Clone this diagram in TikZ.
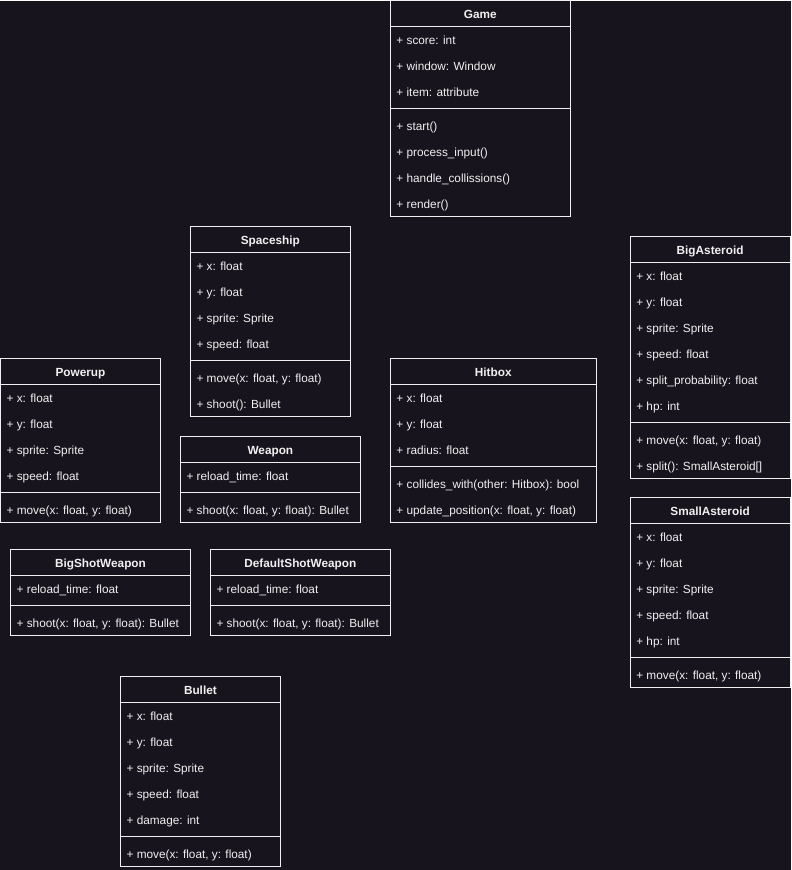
\documentclass[tikz,border=0pt]{standalone}
\usepackage{fontspec}
\setmainfont{Liberation Sans}

\definecolor{canvas}{RGB}{24,20,29}
\definecolor{ink}{RGB}{240,240,240}

\tikzset{
  classtitle/.style={font=\fontsize{11.8}{14}\selectfont\bfseries, text=ink,
    inner sep=0pt, text height=8.6pt, text depth=0pt},
  member/.style={font=\fontsize{11.8}{14}\selectfont, text=ink, anchor=west,
    inner sep=0pt, text height=8.6pt, text depth=0pt},
  classline/.style={draw=ink, line width=1pt},
}

% #1 name, #2 left, #3 top, #4 width, #5 title, #6 attributes, #7 operations
\newcommand{\umlclass}[7]{%
  \node[classtitle] (#1) at ({#2+#4/2},{#3+14}) {#5};
  \foreach \a [count=\i] in {#6} {
    \node[member] (#1-attr\i) at ({#2+6},{#3+14+26*\i}) {\a};
    \xdef\nattr{\i}
  }
  \pgfmathsetmacro{\sepy}{#3+30+26*\nattr}
  \foreach \m [count=\j] in {#7} {
    \node[member] (#1-op\j) at ({#2+6},{\sepy-8+26*\j}) {\m};
    \xdef\nop{\j}
  }
  \draw[classline] (#2,{#3+26}) -- ++(#4,0);
  \draw[classline] (#2,\sepy) -- ++(#4,0);
  \draw[classline] (#2,#3) rectangle ({#2+#4},{\sepy+4+26*\nop});
}

\begin{document}
\begin{tikzpicture}[x=1pt, y=-1pt]
  \fill[canvas] (0,0) rectangle (791,870);

  \umlclass{game}{390}{0}{180}{Game}
    {+ score: int, + window: Window, + item: attribute}
    {+ start(), + process\_input(), + handle\_collissions(), + render()}

  \umlclass{spaceship}{190}{226}{160}{Spaceship}
    {+ x: float, + y: float, + sprite: Sprite, + speed: float}
    {{+ move(x: float, y: float)}, + shoot(): Bullet}

  \umlclass{bigasteroid}{630}{236}{160}{BigAsteroid}
    {+ x: float, + y: float, + sprite: Sprite, + speed: float,
     + split\_probability: float, + hp: int}
    {{+ move(x: float, y: float)}, {+ split(): SmallAsteroid[]}}

  \umlclass{powerup}{0}{358}{160}{Powerup}
    {+ x: float, + y: float, + sprite: Sprite, + speed: float}
    {{+ move(x: float, y: float)}}

  \umlclass{hitbox}{390}{358}{206}{Hitbox}
    {+ x: float, + y: float, + radius: float}
    {{+ collides\_with(other: Hitbox): bool},
     {+ update\_position(x: float, y: float)}}

  \umlclass{weapon}{180}{436}{180}{Weapon}
    {+ reload\_time: float}
    {{+ shoot(x: float, y: float): Bullet}}

  \umlclass{smallasteroid}{630}{497}{160}{SmallAsteroid}
    {+ x: float, + y: float, + sprite: Sprite, + speed: float, + hp: int}
    {{+ move(x: float, y: float)}}

  \umlclass{bigshot}{10}{549}{180}{BigShotWeapon}
    {+ reload\_time: float}
    {{+ shoot(x: float, y: float): Bullet}}

  \umlclass{defaultshot}{210}{549}{180}{DefaultShotWeapon}
    {+ reload\_time: float}
    {{+ shoot(x: float, y: float): Bullet}}

  \umlclass{bullet}{120}{676}{160}{Bullet}
    {+ x: float, + y: float, + sprite: Sprite, + speed: float, + damage: int}
    {{+ move(x: float, y: float)}}
\end{tikzpicture}
\end{document}
